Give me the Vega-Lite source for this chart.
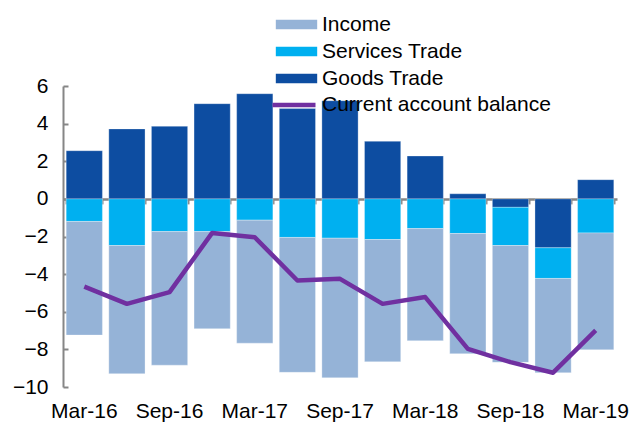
{
  "$schema": "https://vega.github.io/schema/vega-lite/v6.json",
  "width": 554,
  "height": 301,
  "autosize": "none",
  "padding": {"left": 63, "top": 86, "right": 16, "bottom": 41},
  "config": {
    "view": {"stroke": null},
    "font": "Liberation Sans",
    "axis": {"labelFont": "Liberation Sans", "labelFontSize": 21, "labelColor": "#000000", "grid": false, "title": null},
    "legend": {"labelFont": "Liberation Sans", "labelFontSize": 21, "labelColor": "#000000"}
  },
  "datasets": {
    "bars": [
      {"q": "Mar-16", "series": "Goods Trade", "ord": 0, "value": 2.56},
      {"q": "Mar-16", "series": "Services Trade", "ord": 1, "value": -1.2},
      {"q": "Mar-16", "series": "Income", "ord": 2, "value": -6.04},
      {"q": "Jun-16", "series": "Goods Trade", "ord": 0, "value": 3.72},
      {"q": "Jun-16", "series": "Services Trade", "ord": 1, "value": -2.48},
      {"q": "Jun-16", "series": "Income", "ord": 2, "value": -6.81},
      {"q": "Sep-16", "series": "Goods Trade", "ord": 0, "value": 3.86},
      {"q": "Sep-16", "series": "Services Trade", "ord": 1, "value": -1.74},
      {"q": "Sep-16", "series": "Income", "ord": 2, "value": -7.1},
      {"q": "Dec-16", "series": "Goods Trade", "ord": 0, "value": 5.06},
      {"q": "Dec-16", "series": "Services Trade", "ord": 1, "value": -1.74},
      {"q": "Dec-16", "series": "Income", "ord": 2, "value": -5.16},
      {"q": "Mar-17", "series": "Goods Trade", "ord": 0, "value": 5.59},
      {"q": "Mar-17", "series": "Services Trade", "ord": 1, "value": -1.13},
      {"q": "Mar-17", "series": "Income", "ord": 2, "value": -6.54},
      {"q": "Jun-17", "series": "Goods Trade", "ord": 0, "value": 4.8},
      {"q": "Jun-17", "series": "Services Trade", "ord": 1, "value": -2.05},
      {"q": "Jun-17", "series": "Income", "ord": 2, "value": -7.17},
      {"q": "Sep-17", "series": "Goods Trade", "ord": 0, "value": 5.22},
      {"q": "Sep-17", "series": "Services Trade", "ord": 1, "value": -2.09},
      {"q": "Sep-17", "series": "Income", "ord": 2, "value": -7.42},
      {"q": "Dec-17", "series": "Goods Trade", "ord": 0, "value": 3.06},
      {"q": "Dec-17", "series": "Services Trade", "ord": 1, "value": -2.16},
      {"q": "Dec-17", "series": "Income", "ord": 2, "value": -6.5},
      {"q": "Mar-18", "series": "Goods Trade", "ord": 0, "value": 2.28},
      {"q": "Mar-18", "series": "Services Trade", "ord": 1, "value": -1.58},
      {"q": "Mar-18", "series": "Income", "ord": 2, "value": -5.96},
      {"q": "Jun-18", "series": "Goods Trade", "ord": 0, "value": 0.27},
      {"q": "Jun-18", "series": "Services Trade", "ord": 1, "value": -1.84},
      {"q": "Jun-18", "series": "Income", "ord": 2, "value": -6.39},
      {"q": "Sep-18", "series": "Goods Trade", "ord": 0, "value": -0.45},
      {"q": "Sep-18", "series": "Services Trade", "ord": 1, "value": -2.03},
      {"q": "Sep-18", "series": "Income", "ord": 2, "value": -6.21},
      {"q": "Dec-18", "series": "Goods Trade", "ord": 0, "value": -2.6},
      {"q": "Dec-18", "series": "Services Trade", "ord": 1, "value": -1.63},
      {"q": "Dec-18", "series": "Income", "ord": 2, "value": -5.01},
      {"q": "Mar-19", "series": "Goods Trade", "ord": 0, "value": 1.02},
      {"q": "Mar-19", "series": "Services Trade", "ord": 1, "value": -1.81},
      {"q": "Mar-19", "series": "Income", "ord": 2, "value": -6.21}
    ],
    "line": [
      {"q": "Mar-16", "series": "Current account balance", "value": -4.66},
      {"q": "Jun-16", "series": "Current account balance", "value": -5.58},
      {"q": "Sep-16", "series": "Current account balance", "value": -4.96},
      {"q": "Dec-16", "series": "Current account balance", "value": -1.81},
      {"q": "Mar-17", "series": "Current account balance", "value": -2.04},
      {"q": "Jun-17", "series": "Current account balance", "value": -4.34},
      {"q": "Sep-17", "series": "Current account balance", "value": -4.25},
      {"q": "Dec-17", "series": "Current account balance", "value": -5.58},
      {"q": "Mar-18", "series": "Current account balance", "value": -5.22},
      {"q": "Jun-18", "series": "Current account balance", "value": -7.97},
      {"q": "Sep-18", "series": "Current account balance", "value": -8.68},
      {"q": "Dec-18", "series": "Current account balance", "value": -9.24},
      {"q": "Mar-19", "series": "Current account balance", "value": -6.99}
    ]
  },
  "layer": [
    {
      "data": {"name": "bars"},
      "mark": {"type": "bar", "stroke": "#ffffff", "strokeWidth": 0.5, "strokeOpacity": 0.6},
      "encoding": {
        "x": {
          "field": "q", "type": "ordinal",
          "sort": ["Mar-16","Jun-16","Sep-16","Dec-16","Mar-17","Jun-17","Sep-17","Dec-17","Mar-18","Jun-18","Sep-18","Dec-18","Mar-19"],
          "scale": {"paddingInner": 0.15, "paddingOuter": 0.075},
          "axis": {"orient": "bottom", "values": ["Mar-16","Sep-16","Mar-17","Sep-17","Mar-18","Sep-18","Mar-19"], "labelAngle": 0, "domain": false, "ticks": false, "tickSize": 0, "labelPadding": 13}
        },
        "y": {
          "field": "value", "type": "quantitative", "stack": "zero",
          "scale": {"domain": [-10, 6], "nice": false},
          "axis": {"values": [-10,-8,-6,-4,-2,0,2,4,6], "domainColor": "#868686", "domainWidth": 2, "tickColor": "#868686", "tickWidth": 2, "tickSize": -5, "labelPadding": 20}
        },
        "order": {"field": "ord", "type": "quantitative"},
        "color": {
          "field": "series", "type": "nominal",
          "scale": {"domain": ["Income", "Services Trade", "Goods Trade"], "range": ["#95B3D7", "#00B0F0", "#0D4DA1"]},
          "legend": {
            "title": null, "orient": "none", "legendX": 207, "legendY": -72,
            "rowPadding": 5, "labelOffset": 15, "labelLimit": 400, "symbolSize": 121,
            "symbolType": "M-3.9,-1H3.9V1H-3.9Z",
            "symbolOffset": 16,
            "encode": {
              "symbols": {"update": {
                "fill": {"signal": "scale('color', datum.value)"},
                "strokeWidth": {"value": 0},
                "opacity": {"value": 1}
              }}
            }
          }
        }
      }
    },
    {
      "data": {"name": "line"},
      "mark": {"type": "line", "strokeWidth": 4.5, "strokeJoin": "round"},
      "encoding": {
        "x": {
          "field": "q", "type": "ordinal",
          "sort": ["Mar-16","Jun-16","Sep-16","Dec-16","Mar-17","Jun-17","Sep-17","Dec-17","Mar-18","Jun-18","Sep-18","Dec-18","Mar-19"],
          "axis": {"orient": "bottom", "offset": -188.1, "labels": false, "domain": true, "domainColor": "#868686", "domainWidth": 2.5, "ticks": true, "tickColor": "#868686", "tickWidth": 2, "tickSize": 5, "tickBand": "extent"}
        },
        "y": {
          "field": "value", "type": "quantitative",
          "scale": {"domain": [-10, 6], "nice": false},
          "axis": {"values": [-10,-8,-6,-4,-2,0,2,4,6], "domainColor": "#868686", "domainWidth": 2, "tickColor": "#868686", "tickWidth": 2, "tickSize": -5, "labelPadding": 20}
        },
        "stroke": {
          "field": "series", "type": "nominal",
          "scale": {"domain": ["Current account balance"], "range": ["#7030A0"]},
          "legend": {
            "title": null, "orient": "none", "legendX": 207, "legendY": -5,
            "labelOffset": 4, "labelLimit": 400, "symbolSize": 1849,
            "symbolType": "stroke", "symbolStrokeWidth": 4.5, "symbolStrokeColor": "#7030A0"
          }
        }
      }
    }
  ],
  "resolve": {"axis": {"x": "independent"}}
}
